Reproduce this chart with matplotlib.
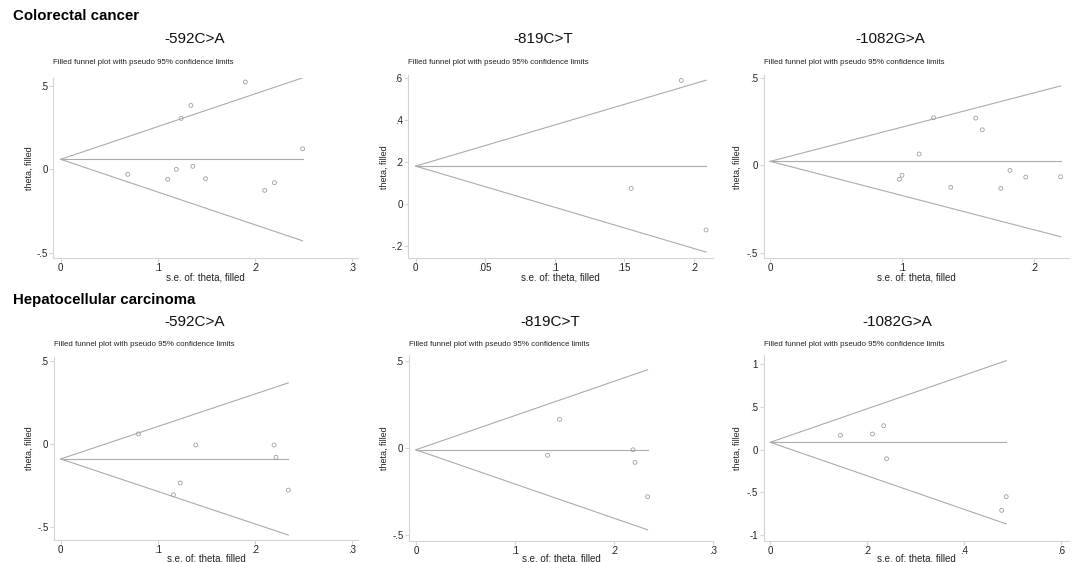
import matplotlib
matplotlib.use("Agg")
import matplotlib.pyplot as plt
import numpy as np

plt.rcParams['font.family'] = ['Liberation Sans', 'DejaVu Sans']

# ---- data ----
row_titles = ["Colorectal cancer", "Hepatocellular carcinoma"]
panel_titles = ["-592C>A", "-819C>T", "-1082G>A", "-592C>A", "-819C>T", "-1082G>A"]

crc592_se = [0.069, 0.110, 0.119, 0.124, 0.134, 0.136, 0.149, 0.190, 0.210, 0.220, 0.249]
crc592_theta = [-0.030, -0.060, 0.000, 0.305, 0.383, 0.018, -0.056, 0.523, -0.126, -0.080, 0.123]
crc592_center = 0.060

crc819_se = [0.191, 0.155, 0.2088]
crc819_theta = [0.590, 0.076, -0.122]
crc819_center = 0.182

crc1082_se = [0.098, 0.100, 0.113, 0.124, 0.137, 0.156, 0.161, 0.175, 0.182, 0.194, 0.2205]
crc1082_theta = [-0.080, -0.057, 0.065, 0.273, -0.126, 0.271, 0.204, -0.132, -0.029, -0.067, -0.065]
crc1082_center = 0.023

hcc592_se = [0.080, 0.116, 0.123, 0.139, 0.2196, 0.2216, 0.2343]
hcc592_theta = [0.059, -0.308, -0.237, -0.008, -0.008, -0.082, -0.280]
hcc592_center = -0.092

hcc819_se = [0.133, 0.145, 0.2192, 0.2212, 0.234]
hcc819_theta = [-0.042, 0.164, -0.010, -0.082, -0.279]
hcc819_center = -0.010

hcc1082_se = [0.145, 0.211, 0.234, 0.240, 0.4776, 0.487]
hcc1082_theta = [0.168, 0.184, 0.281, -0.105, -0.709, -0.549]
hcc1082_center = 0.087

xticks = [[0, 0.1, 0.2, 0.3], [0, 0.05, 0.1, 0.15, 0.2], [0, 0.1, 0.2],
          [0, 0.1, 0.2, 0.3], [0, 0.1, 0.2, 0.3], [0, 0.2, 0.4, 0.6]]
xticklabels = [["0", ".1", ".2", ".3"], ["0", ".05", ".1", ".15", ".2"], ["0", ".1", ".2"],
               ["0", ".1", ".2", ".3"], ["0", ".1", ".2", ".3"], ["0", ".2", ".4", ".6"]]
yticks = [[-0.5, 0, 0.5], [-0.2, 0, 0.2, 0.4, 0.6], [-0.5, 0, 0.5],
          [-0.5, 0, 0.5], [-0.5, 0, 0.5], [-1, -0.5, 0, 0.5, 1]]
yticklabels = [["-.5", "0", ".5"], ["-.2", "0", ".2", ".4", ".6"], ["-.5", "0", ".5"],
               ["-.5", "0", ".5"], ["-.5", "0", ".5"], ["-1", "-.5", "0", ".5", "1"]]

panels = [
    (crc592_se, crc592_theta, crc592_center),
    (crc819_se, crc819_theta, crc819_center),
    (crc1082_se, crc1082_theta, crc1082_center),
    (hcc592_se, hcc592_theta, hcc592_center),
    (hcc819_se, hcc819_theta, hcc819_center),
    (hcc1082_se, hcc1082_theta, hcc1082_center),
]

# ---- layout (pixel boxes: left, right, top, bottom) ----
W, H = 1072, 562
boxes = [
    (53.3, 358.0, 78.0, 258.0),
    (408.3, 713.3, 75.0, 258.3),
    (763.7, 1068.7, 75.0, 258.3),
    (54.0, 358.0, 356.7, 540.0),
    (409.0, 713.0, 355.0, 540.7),
    (763.7, 1068.7, 355.0, 540.7),
]
xlims = [(-0.0076, 0.306), (-0.0053, 0.214), (-0.005, 0.2266),
         (-0.0069, 0.306), (-0.0069, 0.3), (-0.0136, 0.616)]
ylims = [(-0.531, 0.547), (-0.257, 0.616), (-0.533, 0.518),
         (-0.581, 0.525), (-0.531, 0.533), (-1.064, 1.108)]
title_pos = [(194.5, 39), (543, 39), (890, 39), (194.5, 322), (550, 322), (897.5, 322)]
subtitle_y = [63, 63, 63, 345, 345, 345]
xlabel_top = [273, 273, 273, 553.5, 553.5, 553.5]
ylabel_x = [29, 384, 737, 29, 384, 737]

fig = plt.figure(figsize=(W / 100, H / 100), dpi=100)
fig.patch.set_facecolor("white")

line_col = "#ababab"
spine_col = "#d4d4d4"
text_col = "#222222"

for i, ((se, th, c), (l, r, t, b)) in enumerate(zip(panels, boxes)):
    ax = fig.add_axes([l / W, 1 - b / H, (r - l) / W, (b - t) / H])
    ax.set_xlim(*xlims[i])
    ax.set_ylim(*ylims[i])
    smax = max(se)
    ax.plot([0, smax], [c, c + 1.96 * smax], color=line_col, lw=0.8)
    ax.plot([0, smax], [c, c - 1.96 * smax], color=line_col, lw=0.8)
    ax.plot([0, smax], [c, c], color=line_col, lw=0.8)
    ax.scatter(se, th, s=8, facecolors="none", edgecolors="#a0a0a0", linewidths=0.6, zorder=3)
    for side in ["top", "right"]:
        ax.spines[side].set_visible(False)
    for side in ["left", "bottom"]:
        ax.spines[side].set_color(spine_col)
        ax.spines[side].set_linewidth(0.8)
    ax.set_xticks(xticks[i])
    ax.set_xticklabels(xticklabels[i])
    ax.set_yticks(yticks[i])
    ax.set_yticklabels(yticklabels[i])
    ax.tick_params(axis="both", colors=spine_col, labelcolor=text_col, labelsize=7,
                   length=3, width=0.8, pad=1)
    ax.tick_params(axis="x", pad=0.5)
    ax.set_xlabel("s.e. of: theta, filled", fontsize=7, color=text_col)
    ax.xaxis.set_label_coords(0.5, 1 - (xlabel_top[i] - t) / (b - t))
    ax.set_ylabel("theta, filled", fontsize=6.5, color=text_col, va="center")
    ax.yaxis.set_label_coords((ylabel_x[i] - l) / (r - l), 0.5)
    ax.text(0.0, 1.0 + (t - subtitle_y[i]) / (b - t), "Filled funnel plot with pseudo 95% confidence limits",
            transform=ax.transAxes, fontsize=5.7, color=text_col, ha="left", va="center")
    tx, ty = title_pos[i]
    fig.text(tx / W, 1 - ty / H, panel_titles[i], fontsize=11, ha="center", va="center", color="#111111")

fig.text(13 / W, 1 - 16 / H, row_titles[0], fontsize=10.8, fontweight="bold", ha="left", va="center")
fig.text(13 / W, 1 - 300 / H, row_titles[1], fontsize=10.8, fontweight="bold", ha="left", va="center")

fig.savefig("out.png", dpi=100, facecolor="white")
